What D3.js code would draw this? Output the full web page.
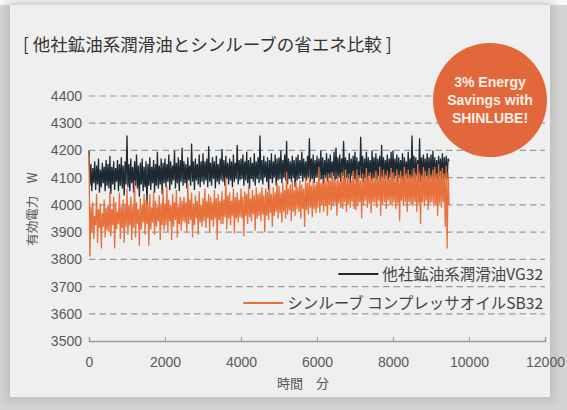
<!DOCTYPE html>
<html><head><meta charset="utf-8">
<script src="https://cdn.jsdelivr.net/npm/d3@7"></script>
<style>
html,body{margin:0;padding:0;background:#fff;}
svg{display:block;}
text{font-family:"Liberation Sans","Noto Sans CJK JP",sans-serif;}
.jp{font-family:"Noto Sans CJK JP","Liberation Sans",sans-serif;}
</style></head>
<body>
<script>
// ---- data ----
const title = "[ 他社鉱油系潤滑油とシンルーブの省エネ比較 ]";
const seriesNames = ["他社鉱油系潤滑油VG32", "シンルーブ コンプレッサオイルSB32"];
const yTicks = [3500,3600,3700,3800,3900,4000,4100,4200,4300,4400];
const xTicks = [0,2000,4000,6000,8000,10000,12000];
const sampleStepMin = 25; // minutes between samples
const otherOil = [
4200,4070,4150,4050,4135,4080,4160,4055,4145,4075,4170,4045,4130,4065,4155,4080,4140,4050,4165,4070,
4150,4060,4180,4040,4140,4075,4160,4055,4135,4085,4165,4050,4150,4070,4175,4060,4145,4035,4160,4075,
4255,4065,4150,4050,4170,4080,4140,4045,4160,4070,4185,4060,4145,4030,4155,4075,4170,4050,4140,4065,
4160,4000,4150,4070,4175,4055,4140,4080,4165,4045,4150,4070,4195,4060,4145,4075,4170,4040,4155,4080,
4170,4065,4150,4085,4185,4055,4160,4075,4145,4090,4200,4060,4155,4080,4175,4050,4165,4085,4210,4070,
4160,4080,4150,4060,4175,4090,4145,4070,4225,4085,4160,4055,4170,4090,4150,4075,4185,4065,4160,4085,
4190,4075,4160,4090,4170,4065,4215,4085,4155,4070,4175,4095,4160,4060,4180,4085,4150,4075,4170,4090,
4205,4085,4165,4070,4180,4095,4155,4075,4170,4090,4160,4065,4185,4085,4155,4095,4220,4075,4165,4090,
4170,4095,4185,4070,4160,4090,4195,4080,4165,4060,4175,4095,4155,4085,4190,4070,4160,4095,4175,4080,
4255,4090,4165,4075,4180,4100,4160,4085,4175,4055,4165,4095,4190,4080,4160,4100,4185,4070,4170,4090,
4175,4095,4200,4080,4165,4100,4185,4090,4235,4075,4170,4095,4160,4085,4180,4100,4165,4065,4175,4090,
4185,4095,4165,4105,4195,4085,4170,4100,4160,4090,4180,4100,4245,4085,4170,4095,4185,4080,4165,4100,
4180,4100,4170,4090,4200,4095,4175,4075,4165,4100,4190,4085,4170,4100,4185,4095,4160,4105,4195,4090,
4210,4095,4175,4100,4185,4085,4170,4105,4235,4090,4175,4100,4165,4095,4190,4080,4170,4105,4180,4095,
4195,4090,4175,4080,4160,4100,4250,4095,4180,4085,4170,4100,4195,4090,4175,4105,4165,4085,4200,4095,
4175,4100,4190,4090,4170,4105,4180,4085,4220,4100,4175,4095,4165,4105,4185,4090,4170,4100,4195,4085,
4200,4095,4170,4105,4185,4085,4175,4100,4165,4095,4190,4080,4175,4105,4160,4095,4195,4100,4170,4090,
4255,4100,4180,4090,4175,4105,4165,4095,4245,4085,4175,4100,4185,4095,4170,4105,4190,4090,4175,4100,
4185,4095,4200,4085,4175,4100,4165,4090,4180,4105,4170,4095,4190,4085,4175,4100,4180,4095,4170,4160];
const shinlube = [
4180,3810,3995,3900,4010,3875,3960,3925,4040,3860,3985,3915,4005,3840,3970,3920,4020,3880,3990,3905,
4000,3900,4050,3885,3985,3925,4030,3840,4010,3910,3975,3930,4045,3875,3995,3915,4020,3860,4005,3920,
4060,3890,4000,3925,4030,3870,3995,3915,4090,3880,4010,3930,3985,3850,4025,3910,4000,3935,4040,3890,
4020,3930,4010,3850,4040,3910,3990,3935,4050,3890,4015,3920,3995,3940,4035,3870,4005,3925,4060,3905,
4005,3925,4070,3900,4020,3940,4000,3870,4040,3920,4010,3945,4055,3880,3995,3930,4030,3905,4015,3940,
4030,3935,4010,3900,4080,3930,4020,3945,4045,3880,4005,3925,4035,3950,4015,3890,4050,3935,4000,3920,
4025,3940,4060,3915,4015,3950,4040,3900,4030,3945,4010,3920,4055,3950,4025,3870,4040,3945,4015,3930,
4050,3930,4020,3955,4100,3910,4035,3950,4045,3925,4015,3960,4060,3895,4030,3950,4045,3935,4020,3955,
4060,3950,4030,3885,4050,3960,4040,3930,4070,3955,4025,3940,4055,3965,4035,3905,4065,3950,4040,3960,
4045,3940,4065,3965,4035,3900,4060,3960,4050,3945,4075,3970,4040,3920,4065,3960,4045,3975,4080,3950,
4070,3970,4045,3935,4080,3975,4055,3950,4120,3965,4060,3980,4075,3940,4090,3975,4055,3960,4085,3985,
4065,3975,4090,3950,4075,3985,4060,3920,4100,3980,4080,3965,4105,3990,4070,3955,4095,3985,4075,3970,
4085,3990,4140,3970,4080,4000,4095,3975,4110,3995,4085,3960,4115,4000,4090,3980,4120,3995,4095,4005,
4090,3960,4105,4005,4085,3990,4120,3985,4100,4010,4130,3975,4095,4000,4115,3990,4090,4010,4125,3985,
4095,3980,4130,3995,4110,4010,4090,3950,4115,4000,4100,4015,4135,3990,4105,4005,4120,3970,4100,4010,
4100,4005,4125,3990,4095,4015,4140,3960,4105,4000,4130,4010,4110,3985,4125,4015,4095,4000,4135,3995,
4120,4010,4100,3985,4130,4005,4110,3940,4125,4015,4105,3995,4140,4010,4115,3975,4130,4010,4110,4000,
4105,3995,4135,4010,4115,3975,4150,4005,4120,3930,4110,4010,4140,3995,4125,4015,4105,3980,4135,4005,
4110,4010,4130,3995,4140,4000,4115,3960,4150,4005,4125,3990,4135,4010,4115,3920,4145,3840,4120,4000];
const badgeLines = ["3% Energy","Savings with","SHINLUBE!"];
const colors = ["#1d2a33","#e8703a"];

// ---- drawing ----
const W = 567, H = 410;
const svg = d3.select("body").append("svg").attr("width", W).attr("height", H);
const defs = svg.append("defs");
const f = defs.append("filter").attr("id","sh").attr("x","-10%").attr("y","-10%").attr("width","120%").attr("height","120%");
f.append("feGaussianBlur").attr("stdDeviation", 5);

svg.append("rect").attr("width", W).attr("height", H).attr("fill", "#d4d4d4");
svg.append("rect").attr("width", W).attr("height", 5).attr("fill", "#fafafa");
svg.append("rect").attr("x", 6).attr("y", 3).attr("width", 548).attr("height", 398)
  .attr("fill", "#bdbdbd").attr("filter", "url(#sh)");
svg.append("rect").attr("x", 10).attr("y", 5).attr("width", 540).attr("height", 392).attr("fill", "#efefef");

const x = d3.scaleLinear().domain([0, 12000]).range([89, 545]);
const y = d3.scaleLinear().domain([3500, 4400]).range([341, 96]);

// grid
svg.append("g").selectAll("line").data(yTicks.filter(v => v > 3500)).join("line")
  .attr("x1", x(0)).attr("x2", x(12000)).attr("y1", d => y(d)).attr("y2", d => y(d))
  .attr("stroke", "#9b9b9b").attr("stroke-width", 1.2).attr("stroke-dasharray", "6.5,4");

// y tick labels
svg.append("g").selectAll("text").data(yTicks).join("text")
  .attr("x", 82).attr("y", d => y(d)).attr("dy", "0.36em").attr("text-anchor", "end")
  .attr("font-size", 14).attr("fill", "#5a5a5a").text(d => d);

// x axis
const xa = svg.append("g").attr("transform", `translate(0,${y(3500)})`)
  .call(d3.axisBottom(x).tickValues(xTicks).tickSize(-4).tickFormat(d3.format("d")));
xa.select(".domain").attr("stroke", "#9b9b9b").attr("stroke-width", 1.5);
xa.selectAll(".tick line").attr("stroke", "#9b9b9b");
xa.selectAll(".tick text").attr("y", 21).attr("dy", "0.36em").attr("font-size", 14)
  .attr("fill", "#5a5a5a").attr("font-family", "Liberation Sans");

// series
const line = d3.line().x((d, i) => x(i * sampleStepMin)).y(d => y(d));
[otherOil, shinlube].forEach((s, k) => {
  svg.append("path").datum(s).attr("d", line).attr("fill", "none")
    .attr("stroke", colors[k]).attr("stroke-width", 1.3).attr("stroke-linejoin", "miter");
});

// title
svg.append("text").attr("class", "jp").attr("x", 23).attr("y", 45).attr("dy", "0.36em")
  .attr("font-size", 17.5).attr("fill", "#333").text(title);

// axis titles
svg.append("text").attr("class", "jp").attr("transform", "translate(32,209) rotate(-90)")
  .attr("text-anchor", "middle").attr("dy", "0.36em").attr("font-size", 12.5).attr("fill", "#555")
  .text("有効電力　W");
svg.append("text").attr("class", "jp").attr("x", 303).attr("y", 383).attr("dy", "0.36em")
  .attr("text-anchor", "middle").attr("font-size", 13).attr("fill", "#555").text("時間　分");

// legend
const legY = [274, 303];
seriesNames.forEach((n, k) => {
  const t = svg.append("text").attr("class", "jp").attr("x", 543).attr("y", legY[k]).attr("dy", "0.36em")
    .attr("text-anchor", "end").attr("font-size", 15.5).attr("fill", "#444").text(n);
  const w = t.node().getComputedTextLength();
  svg.append("line").attr("x1", 543 - w - 44).attr("x2", 543 - w - 4)
    .attr("y1", legY[k]).attr("y2", legY[k]).attr("stroke", colors[k]).attr("stroke-width", 2);
});

// badge
svg.append("circle").attr("cx", 490).attr("cy", 100).attr("r", 57).attr("fill", "#e2673a");
svg.append("g").selectAll("text").data(badgeLines).join("text")
  .attr("x", 490).attr("y", (d, i) => 82 + i * 18).attr("dy", "0.36em").attr("text-anchor", "middle")
  .attr("font-size", 14).attr("font-weight", "bold").attr("fill", "#fcefe8").text(d => d);
</script>
</body></html>
